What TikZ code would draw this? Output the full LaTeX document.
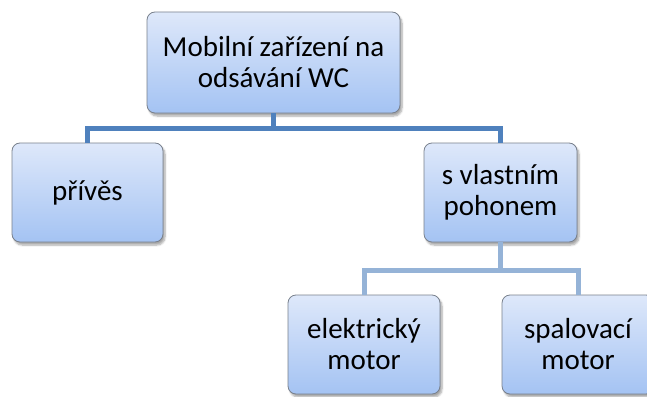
\documentclass[tikz,border=0pt]{standalone}
\usepackage{fontspec}
\setmainfont{Carlito}
\usetikzlibrary{shadows.blur}
\definecolor{boxtop}{RGB}{222,232,250}
\definecolor{boxbot}{RGB}{164,195,243}
\definecolor{boxline}{RGB}{120,128,140}
\definecolor{connA}{RGB}{79,129,189}
\definecolor{connB}{RGB}{149,179,215}
\tikzset{
  box/.style={draw=boxline, line width=0.8pt, rounded corners=8pt,
    top color=boxtop, bottom color=boxbot, align=center,
    font=\fontsize{29}{31}\selectfont, inner sep=0pt,
    blur shadow={shadow xshift=2pt, shadow yshift=-3pt, shadow blur steps=6, shadow opacity=35}},
  connone/.style={draw=connA, line width=5pt},
  conntwo/.style={draw=connB, line width=5pt},
}
\begin{document}
\begin{tikzpicture}[x=1pt,y=-1pt]
\useasboundingbox (0,0) rectangle (647,396);
\clip (0,0) rectangle (647,396);
\coordinate (j1) at (273.5,128);
\coordinate (j2) at (500.5,270);
\node[box, minimum width=253pt, minimum height=101pt] (top) at (273.5,62.5) {Mobilní zařízení na\\odsávání WC};
\node[box, minimum width=151pt, minimum height=99pt] (pr) at (87.5,192.5) {přívěs};
\node[box, minimum width=153pt, minimum height=99pt] (sv) at (500.5,192.5) {s vlastním\\pohonem};
\node[box, minimum width=152pt, minimum height=99pt] (el) at (364,344.5) {elektrický\\motor};
\node[box, minimum width=152pt, minimum height=99pt] (sp) at (578,344.5) {spalovací\\motor};
\draw[connone] (top.south) -- (j1);
\draw[connone] (pr.north) |- (j1) -| (sv.north);
\draw[conntwo] (sv.south) -- (j2);
\draw[conntwo] (el.north) |- (j2) -| (sp.north);
\end{tikzpicture}
\end{document}
